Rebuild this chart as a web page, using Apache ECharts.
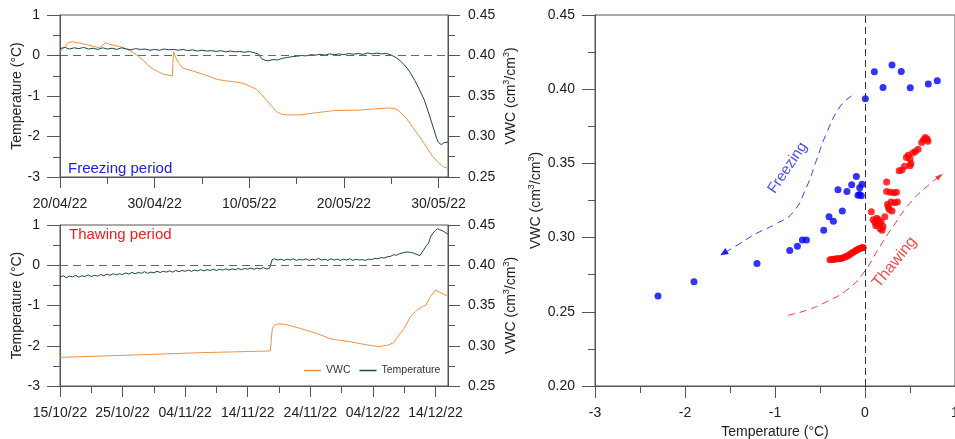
<!DOCTYPE html>
<html>
<head>
<meta charset="utf-8">
<script src="https://cdn.jsdelivr.net/npm/echarts@6/dist/echarts.min.js"></script>
<style>
html,body{margin:0;padding:0;background:#fff;}
#chart{width:955px;height:439px;}
</style>
</head>
<body>
<div id="chart"></div>
<script>
// ---------- DATA ----------
// Freezing period (day 0 = 20/04/22)
const freezeStart = [2022, 4, 20];
const freezeTemp = [
[0,0.17],[0.5,0.20],[1,0.16],[1.5,0.19],[2,0.17],[2.5,0.20],[3,0.16],[3.5,0.18],[4,0.15],[4.5,0.19],
[5,0.16],[5.5,0.18],[6,0.15],[6.5,0.19],[7,0.16],[7.5,0.14],[8,0.17],[8.5,0.15],[9,0.16],[9.5,0.13],
[10,0.15],[10.5,0.13],[11,0.16],[11.5,0.14],[12,0.15],[12.5,0.13],[13,0.15],[13.5,0.12],[14,0.14],[14.5,0.11],
[15,0.13],[15.5,0.11],[16,0.12],[16.5,0.10],[17,0.12],[17.5,0.09],[18,0.11],[18.5,0.09],[19,0.10],[19.5,0.08],
[20,0.10],[20.5,0.07],[21,0.03],[21.3,-0.08],[21.7,-0.12],[22,-0.13],[22.5,-0.10],[23,-0.11],[23.5,-0.07],[24,-0.05],
[24.5,-0.03],[25,-0.02],[25.5,0.00],[26,-0.01],[26.5,0.02],[27,0.01],[27.5,0.03],[28,0.01],[28.5,0.04],[29,0.02],
[29.5,0.04],[30,0.02],[30.5,0.05],[31,0.03],[31.5,0.05],[32,0.03],[32.5,0.06],[33,0.04],[33.5,0.06],[34,0.04],
[34.5,0.05],[35,0.01],[35.5,-0.05],[36,-0.14],[36.5,-0.26],[37,-0.42],[37.5,-0.62],[38,-0.85],[38.5,-1.10],[39,-1.45],
[39.5,-1.82],[39.8,-2.05],[40,-2.15],[40.3,-2.20],[40.6,-2.15],[41,-2.14]
];
const freezeVWC = [
[0,0.405],[0.4,0.409],[0.9,0.416],[1.3,0.417],[2,0.4155],[3,0.413],[4,0.410],[4.3,0.4105],[4.8,0.416],[5.2,0.414],
[6.3,0.411],[7,0.4085],[7.75,0.4035],[8.3,0.399],[8.8,0.394],[9.3,0.388],[9.85,0.383],[10.4,0.380],[10.9,0.377],[11.87,0.3747],
[11.93,0.390],[12.0,0.4047],[12.15,0.400],[12.4,0.393],[12.7,0.388],[13.0,0.3842],[14,0.381],[14.8,0.378],[15.7,0.3745],[16.55,0.3706],
[17.4,0.369],[18.3,0.3677],[19.35,0.3657],[20.1,0.362],[20.76,0.3583],[21.3,0.352],[21.8,0.345],[22.4,0.337],[22.9,0.3306],[23.4,0.3277],
[23.96,0.3266],[25.3,0.3266],[27.1,0.3294],[28.9,0.3319],[31.7,0.3327],[33.5,0.3343],[34.7,0.3352],[35.3,0.3345],[35.7,0.3327],[36.1,0.328],
[36.6,0.3225],[37.3,0.311],[38.0,0.2998],[38.7,0.2875],[39.4,0.275],[40.0,0.268],[40.5,0.2627],[41,0.2607]
];
// Thawing period (day 0 = 15/10/22)
const thawStart = [2022, 10, 15];
const thawTemp = [
[0,-0.30],[0.5,-0.26],[1,-0.31],[1.5,-0.27],[2,-0.29],[2.5,-0.25],[3,-0.30],[3.5,-0.26],[4,-0.28],[4.5,-0.24],
[5,-0.28],[5.5,-0.25],[6,-0.27],[6.5,-0.23],[7,-0.26],[7.5,-0.22],[8,-0.25],[8.5,-0.21],[9,-0.24],[9.5,-0.21],
[10,-0.23],[10.5,-0.19],[11,-0.22],[11.5,-0.18],[12,-0.21],[12.5,-0.18],[13,-0.20],[13.5,-0.16],[14,-0.20],[14.5,-0.17],
[15,-0.19],[15.5,-0.15],[16,-0.18],[16.5,-0.15],[17,-0.17],[17.5,-0.14],[18,-0.17],[18.5,-0.13],[19,-0.16],[19.5,-0.13],
[20,-0.15],[20.5,-0.12],[21,-0.15],[21.5,-0.12],[22,-0.14],[22.5,-0.11],[23,-0.14],[23.5,-0.11],[24,-0.13],[24.5,-0.10],
[25,-0.13],[25.5,-0.10],[26,-0.12],[26.5,-0.09],[27,-0.12],[27.5,-0.09],[28,-0.11],[28.5,-0.08],[29,-0.11],[29.5,-0.08],
[30,-0.10],[30.5,-0.07],[31,-0.10],[31.5,-0.07],[32,-0.09],[32.5,-0.06],[33,-0.09],[33.5,-0.07],[33.8,-0.08],[33.9,0.14],
[34.3,0.16],[34.8,0.13],[35.3,0.15],[35.8,0.12],[36.3,0.15],[36.8,0.13],[37.3,0.16],[37.8,0.12],[38.3,0.15],[38.8,0.13],
[39.3,0.16],[39.8,0.12],[40.3,0.15],[40.8,0.13],[41.3,0.17],[41.8,0.13],[42.3,0.15],[42.8,0.12],[43.3,0.16],[43.8,0.13],
[44.3,0.15],[44.8,0.12],[45.3,0.15],[45.8,0.13],[46.3,0.16],[46.8,0.12],[47.3,0.15],[47.8,0.13],[48.3,0.14],[48.8,0.12],
[49.3,0.15],[49.8,0.14],[50.3,0.17],[50.8,0.16],[51.3,0.19],[51.8,0.18],[52.3,0.21],[52.8,0.22],[53.3,0.26],[53.8,0.25],
[54.3,0.29],[54.8,0.31],[55.3,0.33],[55.6,0.36],[56.0,0.32],[56.5,0.30],[57.0,0.27],[57.5,0.24],[57.8,0.27],[58.2,0.40],
[58.6,0.50],[58.9,0.55],[59.2,0.70],[59.6,0.80],[60.0,0.86],[60.3,0.91],[60.7,0.88],[61.1,0.86],[61.5,0.82],[62.0,0.77]
];
const thawVWC = [
[0,0.2856],[5,0.2868],[11.7,0.2885],[22.4,0.2914],[33.6,0.2935],[33.8,0.2940],[33.9,0.3196],[34.1,0.3240],[34.4,0.3265],[35.2,0.3272],
[36,0.3265],[38.4,0.3216],[41,0.3154],[43.3,0.3085],[43.6,0.3071],[44.5,0.3071],[46.4,0.3050],[49.1,0.3010],[51,0.2989],[52.5,0.3010],
[53.3,0.3038],[54.4,0.3154],[55,0.3216],[56,0.3361],[57.1,0.3444],[57.9,0.3486],[58.5,0.3506],[59.2,0.3610],[60,0.3693],[61,0.3651],
[62,0.3618]
];
// Scatter: [temperature, VWC]
const freezePoints = [
[-2.30,0.2607],[-1.90,0.2702],[-1.20,0.2825],[-0.836,0.2913],[-0.751,0.2942],[-0.696,0.2983],[-0.651,0.2983],
[-0.459,0.3050],[-0.40,0.3140],[-0.351,0.3111],[-0.252,0.3180],[-0.30,0.3322],[-0.20,0.3311],[-0.148,0.3356],
[-0.096,0.3412],[-0.059,0.3336],[-0.033,0.3360],[-0.078,0.3286],[-0.041,0.3282],[-0.060,0.3290],
[0.004,0.3936],[0.104,0.4118],[0.20,0.4012],[0.30,0.4163],[0.403,0.4120],[0.503,0.4010],[0.703,0.4035],[0.803,0.4057]
];
const thawPoints = [
[-0.39,0.2850],[-0.37,0.2852],[-0.35,0.2853],[-0.33,0.2855],[-0.31,0.2857],[-0.29,0.2858],[-0.27,0.2860],[-0.25,0.2863],
[-0.23,0.2867],[-0.21,0.2872],[-0.19,0.2878],[-0.17,0.2886],[-0.15,0.2894],[-0.13,0.2902],[-0.11,0.2910],[-0.09,0.2917],
[-0.07,0.2923],[-0.05,0.2928],[-0.03,0.2931],[-0.02,0.2933],
[0.07,0.3175],[0.09,0.3120],[0.11,0.3105],[0.13,0.3130],[0.14,0.3090],[0.16,0.3095],[0.17,0.3060],[0.19,0.3050],
[0.20,0.3075],[0.15,0.3120],[0.12,0.3080],[0.18,0.3105],
[0.22,0.3140],[0.24,0.3375],[0.24,0.3310],[0.28,0.3305],[0.32,0.3302],[0.35,0.3305],[0.25,0.3225],[0.29,0.3240],
[0.33,0.3235],[0.36,0.3240],[0.27,0.3190],[0.30,0.3180],[0.26,0.3205],
[0.38,0.3450],[0.41,0.3455],[0.44,0.3480],[0.46,0.3540],[0.48,0.3555],[0.50,0.3530],[0.51,0.3500],[0.50,0.3485],
[0.53,0.3570],[0.56,0.3580],[0.59,0.3595],[0.63,0.3640],[0.65,0.3660],[0.67,0.3675],[0.70,0.3650],[0.69,0.3665]
];
// Guide arrows (data coords)
const freezeArrow = [[-0.15,0.3954],[-0.28,0.388],[-0.43,0.370],[-0.54,0.352],[-0.65,0.334],[-0.80,0.317],[-0.98,0.3095],[-1.21,0.3027],[-1.39,0.296],[-1.57,0.2895]];
const thawArrow = [[-0.855,0.2477],[-0.65,0.251],[-0.43,0.2567],[-0.207,0.2645],[-0.022,0.2758],[0.163,0.2938],[0.31,0.3073],[0.496,0.323],[0.68,0.334],[0.83,0.3414]];
const tempTicks = [-3,-2,-1,0,1];
const vwcTicks = [0.25,0.30,0.35,0.40,0.45];

// ---------- STYLE ----------
const FONT = 'Liberation Sans, Arial, sans-serif';
const AX = '#555';
const TXT = '#222';
const ORANGE = '#f4913f';
const DARK = '#1d4744';

function pad(n){return (n<10?'0':'')+n;}
function fmtDate(start, d){
  const dt = new Date(start[0], start[1]-1, start[2]+d);
  return pad(dt.getDate())+'/'+pad(dt.getMonth()+1)+'/'+String(dt.getFullYear()).slice(2);
}
function axisBase(extra){
  return Object.assign({
    axisLine:{show:true,onZero:false,lineStyle:{color:AX,width:1}},
    axisTick:{show:true,length:13,lineStyle:{color:AX}},
    minorTick:{show:true,splitNumber:2,length:7,lineStyle:{color:AX}},
    splitLine:{show:false},
    minorSplitLine:{show:false},
    axisLabel:{color:TXT,fontSize:14,fontFamily:FONT,margin:20},
    nameTextStyle:{color:TXT,fontSize:14,fontFamily:FONT}
  }, extra);
}
const vwcName = '{a|VWC (cm}{s|3}{a|/cm}{s|3}{a|)}';
const vwcRich = {a:{fontSize:14,fontFamily:FONT,color:TXT,lineHeight:18},s:{fontSize:9,fontFamily:FONT,color:TXT,lineHeight:18,verticalAlign:'top',padding:[0,0,6,0]}};
const gridBase = {show:true,borderColor:AX,borderWidth:1,backgroundColor:'transparent',containLabel:false,outerBoundsMode:'none'};

const option = {
  animation:false,
  backgroundColor:'#fff',
  textStyle:{fontFamily:FONT},
  grid:[
    Object.assign({left:60,top:15,width:388,height:162}, gridBase),
    Object.assign({left:60,top:225,width:388,height:161}, gridBase),
    Object.assign({left:595,top:15,width:360,height:371}, gridBase)
  ],
  title:[
    {text:'Freezing period',left:68,top:161,padding:0,textStyle:{color:'#2020e8',fontSize:15,fontWeight:'normal',fontFamily:FONT}},
    {text:'Thawing period',left:69,top:227,padding:0,textStyle:{color:'#f01c1c',fontSize:15,fontWeight:'normal',fontFamily:FONT}}
  ],
  legend:{
    left:304,top:365,itemWidth:17,itemHeight:1.5,itemGap:9,icon:'rect',padding:0,
    textStyle:{color:'#333',fontSize:10.5,fontFamily:FONT},
    data:['VWC','Temperature']
  },
  xAxis:[
    axisBase({gridIndex:0,type:'value',min:0,max:41,interval:10,
      axisTick:{show:true,length:11,lineStyle:{color:AX},customValues:[0,10,20,30,40]},
      axisLabel:{color:TXT,fontSize:14,fontFamily:FONT,margin:20,customValues:[0,10,20,30,40],formatter:v=>fmtDate(freezeStart,v)}}),
    axisBase({gridIndex:1,type:'value',min:0,max:62,interval:10,
      axisTick:{show:true,length:11,lineStyle:{color:AX},customValues:[0,10,20,30,40,50,60]},
      axisLabel:{color:TXT,fontSize:14,fontFamily:FONT,margin:20,customValues:[0,10,20,30,40,50,60],formatter:v=>fmtDate(thawStart,v)}}),
    axisBase({gridIndex:2,type:'value',min:-3,max:1,interval:1,
      axisTick:{show:true,length:12,lineStyle:{color:AX}},
      name:'Temperature (°C)',nameLocation:'middle',nameGap:37})
  ],
  yAxis:[
    axisBase({gridIndex:0,type:'value',min:tempTicks[0],max:tempTicks[tempTicks.length-1],interval:1,position:'left',
      name:'Temperature (°C)',nameLocation:'middle',nameGap:36}),
    axisBase({gridIndex:0,type:'value',min:vwcTicks[0],max:vwcTicks[vwcTicks.length-1],interval:0.05,position:'right',
      axisTick:{show:true,length:12,lineStyle:{color:AX}},
      axisLabel:{color:TXT,fontSize:14,fontFamily:FONT,margin:20,formatter:v=>v.toFixed(2)},
      name:vwcName,nameLocation:'middle',nameGap:54,nameTextStyle:{rich:vwcRich}}),
    axisBase({gridIndex:1,type:'value',min:tempTicks[0],max:tempTicks[tempTicks.length-1],interval:1,position:'left',
      name:'Temperature (°C)',nameLocation:'middle',nameGap:36}),
    axisBase({gridIndex:1,type:'value',min:vwcTicks[0],max:vwcTicks[vwcTicks.length-1],interval:0.05,position:'right',
      axisTick:{show:true,length:12,lineStyle:{color:AX}},
      axisLabel:{color:TXT,fontSize:14,fontFamily:FONT,margin:20,formatter:v=>v.toFixed(2)},
      name:vwcName,nameLocation:'middle',nameGap:54,nameTextStyle:{rich:vwcRich}}),
    axisBase({gridIndex:2,type:'value',min:0.20,max:0.45,interval:0.05,position:'left',
      axisLabel:{color:TXT,fontSize:14,fontFamily:FONT,margin:20,formatter:v=>v.toFixed(2)},
      name:vwcName,nameLocation:'middle',nameGap:50,nameTextStyle:{rich:vwcRich}})
  ],
  series:[
    {name:'VWC',type:'line',xAxisIndex:0,yAxisIndex:1,data:freezeVWC,symbol:'none',color:ORANGE,lineStyle:{color:ORANGE,width:1}},
    {name:'Temperature',type:'line',xAxisIndex:0,yAxisIndex:0,data:freezeTemp,symbol:'none',color:DARK,lineStyle:{color:DARK,width:1},
      markLine:{silent:true,symbol:'none',label:{show:false},lineStyle:{color:'#666',type:[8,5],width:1},data:[{yAxis:0}]}},
    {name:'VWC',type:'line',xAxisIndex:1,yAxisIndex:3,data:thawVWC,symbol:'none',color:ORANGE,lineStyle:{color:ORANGE,width:1}},
    {name:'Temperature',type:'line',xAxisIndex:1,yAxisIndex:2,data:thawTemp,symbol:'none',color:DARK,lineStyle:{color:DARK,width:1},
      markLine:{silent:true,symbol:'none',label:{show:false},lineStyle:{color:'#666',type:[8,5],width:1},data:[{yAxis:0}]}},
    {name:'freezePts',type:'scatter',xAxisIndex:2,yAxisIndex:4,data:freezePoints,symbolSize:7,itemStyle:{color:'#0000ff'},
      markLine:{silent:true,symbol:'none',label:{show:false},lineStyle:{color:'#333',type:[7,4],width:1},data:[{xAxis:0}]}},
    {name:'thawPts',type:'scatter',xAxisIndex:2,yAxisIndex:4,data:thawPoints,symbolSize:7,itemStyle:{color:'#ff0000'}},
    {name:'freezeArrow',type:'line',xAxisIndex:2,yAxisIndex:4,smooth:true,symbol:'none',showSymbol:true,silent:true,
      lineStyle:{color:'#3a3aff',width:1,type:[7,5]},itemStyle:{color:'#2020ff'},
      data:freezeArrow.map((p,i)=>i===freezeArrow.length-1?{value:p,symbol:'triangle',symbolSize:[7,8],symbolRotate:121}:p)},
    {name:'thawArrow',type:'line',xAxisIndex:2,yAxisIndex:4,smooth:true,symbol:'none',showSymbol:true,silent:true,
      lineStyle:{color:'#f23a3a',width:1,type:[7,5]},itemStyle:{color:'#f23a3a'},
      data:thawArrow.map((p,i)=>i===thawArrow.length-1?{value:p,symbol:'triangle',symbolSize:[5,8],symbolRotate:-51}:p)},
    {name:'labels',type:'scatter',xAxisIndex:2,yAxisIndex:4,symbolSize:0,silent:true,
      data:[
        {value:[-0.86,0.347],label:{show:true,position:'inside',formatter:'Freezing',rotate:56,color:'#2020e8',fontSize:15,fontFamily:FONT}},
        {value:[0.33,0.2834],label:{show:true,position:'inside',formatter:'Thawing',rotate:51,color:'#f01c1c',fontSize:16,fontFamily:FONT}}
      ]}
  ]
};
const chart = echarts.init(document.getElementById('chart'), null, {renderer:'canvas'});
chart.setOption(option);
</script>
</body>
</html>
